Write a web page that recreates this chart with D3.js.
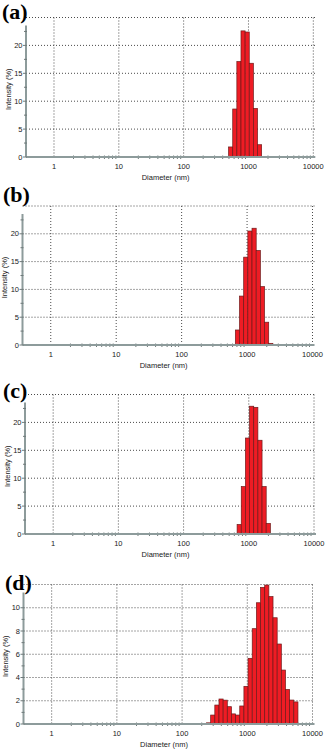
<!DOCTYPE html>
<html>
<head>
<meta charset="utf-8">
<script src="https://cdn.jsdelivr.net/npm/d3@7"></script>
<style>
  body { margin: 0; background: #fff; }
  svg { display: block; }
  .tick-label { font-family: "Liberation Sans", Arial, sans-serif; font-size: 7.5px; fill: #1a1a1a; }
  .axis-title { font-family: "Liberation Sans", Arial, sans-serif; font-size: 7.5px; fill: #1a1a1a; }
  .panel-label { font-family: "Liberation Serif", "Times New Roman", serif; font-size: 22px; font-weight: bold; fill: #000; }
</style>
</head>
<body>
<div id="chart"></div>
<script>
// Malvern size classes (nm) used by the bars, and intensities
const sizesA = [531.2, 615.1, 712.4, 825.0, 955.4, 1106, 1281, 1484];
const intensityA = [1.8, 8.6, 17.1, 22.6, 22.4, 16.8, 8.7, 2.2];

const sizesB = [712.4, 825.0, 955.4, 1106, 1281, 1484, 1718, 1990, 2305];
const intensityB = [2.7, 8.8, 15.8, 20.5, 21.0, 17.0, 10.5, 4.1, 0.3];

const sizesC = [712.4, 825.0, 955.4, 1106, 1281, 1484, 1718, 1990];
const intensityC = [1.7, 8.5, 17.2, 22.9, 22.7, 16.8, 8.5, 1.9];

const sizesD = [255.0, 295.3, 342.0, 396.1, 458.7, 531.2, 615.1, 712.4, 825.0, 955.4, 1106,
                1281, 1484, 1718, 1990, 2305, 2669, 3091, 3580, 4145, 4801, 5560];
const intensityD = [0.1, 0.77, 1.63, 2.15, 2.05, 1.49, 0.87, 0.77, 1.55, 3.24, 5.65,
                    8.2, 10.43, 11.75, 11.95, 10.96, 9.14, 6.88, 4.64, 2.97, 2.06, 1.9];

// ratio between neighbouring size classes (70 classes, 0.4 - 10000 nm)
const binRatio = Math.pow(10000 / 0.4, 1 / 69);

const xTicks = [1, 10, 100, 1000, 10000];
const xTickLabels = ["1", "10", "100", "1000", "10000"];
const yTicksABC = [0, 5, 10, 15, 20];
const yTicksD = [0, 2, 4, 6, 8, 10];
const panelLabels = ["(a)", "(b)", "(c)", "(d)"];
const xTitle = "Diameter (nm)";
const yTitle = "Intensity (%)";

// Layout of the four stacked panels (pixels)
const panels = [
    { sizes: sizesA, values: intensityA, yMax: 25, yTicks: yTicksABC, minorStep: 2.5,
      left: 26, right: 313.3, top: 17.5, bottom: 157, lx: 2, ly: 18.5 },
    { sizes: sizesB, values: intensityB, yMax: 25, yTicks: yTicksABC, minorStep: 2.5,
      left: 22.5, right: 312.5, top: 206, bottom: 345, lx: 3, ly: 201.5 },
    { sizes: sizesC, values: intensityC, yMax: 25, yTicks: yTicksABC, minorStep: 2.5,
      left: 25, right: 314, top: 394.5, bottom: 534, lx: 3, ly: 398 },
    { sizes: sizesD, values: intensityD, yMax: 12, yTicks: yTicksD, minorStep: 1,
      left: 23.5, right: 312.5, top: 584.5, bottom: 724, lx: 5, ly: 590 }
];

const svg = d3.select("#chart").append("svg")
    .attr("width", 326)
    .attr("height", 749);

const gridColor = "#4a4a4a";
const axisColor = "#8d9b9b";

panels.forEach((p, i) => {
    const g = svg.append("g");

    const x = d3.scaleLog()
        .domain([0.37, 10000])
        .range([p.left, p.right]);

    const y = d3.scaleLinear()
        .domain([0, p.yMax])
        .range([p.bottom, p.top]);

    // Dotted grid: vertical at decades, horizontal at major ticks and the top frame
    g.selectAll(".vgrid")
        .data(xTicks)
        .join("line")
        .attr("x1", d => x(d)).attr("x2", d => x(d))
        .attr("y1", y(p.yMax)).attr("y2", y(0))
        .attr("stroke", gridColor)
        .attr("stroke-width", 1)
        .attr("stroke-dasharray", "1,2");

    g.selectAll(".hgrid")
        .data(p.yTicks.filter(d => d > 0).concat([p.yMax]))
        .join("line")
        .attr("x1", x.range()[0]).attr("x2", x(10000) + 2)
        .attr("y1", d => y(d)).attr("y2", d => y(d))
        .attr("stroke", gridColor)
        .attr("stroke-width", 1)
        .attr("stroke-dasharray", "1,2");

    // Bars, one per size class, spanning the class in log space
    const halfBin = Math.sqrt(binRatio);
    const bars = p.sizes.map((s, k) => ({ size: s, value: p.values[k] }));
    g.selectAll(".bar")
        .data(bars)
        .join("rect")
        .attr("class", "bar")
        .attr("x", d => x(d.size / halfBin))
        .attr("width", d => x(d.size * halfBin) - x(d.size / halfBin))
        .attr("y", d => y(d.value))
        .attr("height", d => y(0) - y(d.value))
        .attr("fill", "#ee1c24")
        .attr("stroke", "#6e1a1a")
        .attr("stroke-width", 0.7);

    // Minor x ticks (2..9 in each decade)
    const minorX = [];
    [1, 10, 100, 1000].forEach(dec => {
        for (let m = 2; m <= 9; m++) minorX.push(dec * m);
    });
    g.selectAll(".xminor")
        .data(minorX)
        .join("line")
        .attr("x1", d => x(d)).attr("x2", d => x(d))
        .attr("y1", y(0) - 1.5).attr("y2", y(0) + 2)
        .attr("stroke", "#6f7a7a")
        .attr("stroke-width", 1);

    // x axis line
    g.append("line")
        .attr("x1", x.range()[0]).attr("x2", x(10000) + 2)
        .attr("y1", y(0)).attr("y2", y(0))
        .attr("stroke", axisColor)
        .attr("stroke-width", 2);

    // y spine with major and minor ticks
    g.append("line")
        .attr("x1", x.range()[0]).attr("x2", x.range()[0])
        .attr("y1", y(0)).attr("y2", y(p.yMax) + 8)
        .attr("stroke", axisColor)
        .attr("stroke-width", 2);

    const minorY = d3.range(p.minorStep, p.yMax - 1, p.minorStep * 2);
    g.selectAll(".yminor")
        .data(minorY)
        .join("line")
        .attr("x1", x.range()[0] - 2).attr("x2", x.range()[0] + 1)
        .attr("y1", d => y(d)).attr("y2", d => y(d))
        .attr("stroke", "#6f7a7a");

    g.selectAll(".ymajor")
        .data(p.yTicks)
        .join("line")
        .attr("x1", x.range()[0] - 3).attr("x2", x.range()[0] + 1)
        .attr("y1", d => y(d)).attr("y2", d => y(d))
        .attr("stroke", "#6f7a7a");

    // tick labels
    g.selectAll(".ylab")
        .data(p.yTicks)
        .join("text")
        .attr("class", "tick-label")
        .attr("x", x.range()[0] - 3.5)
        .attr("y", d => y(d))
        .attr("dy", "0.35em")
        .attr("text-anchor", "end")
        .text(d => d);

    g.selectAll(".xlab")
        .data(xTicks)
        .join("text")
        .attr("class", "tick-label")
        .attr("x", d => x(d))
        .attr("y", y(0) + 11.5)
        .attr("text-anchor", "middle")
        .text((d, k) => xTickLabels[k]);

    // axis titles
    g.append("text")
        .attr("class", "axis-title")
        .attr("x", (x(1) + x(10000)) / 2 - 18)
        .attr("y", y(0) + 22.5)
        .attr("text-anchor", "middle")
        .text(xTitle);

    const yMid = (y(0) + y(p.yMax)) / 2 + 2;
    g.append("text")
        .attr("class", "axis-title")
        .attr("transform", `translate(${x.range()[0] - 15.5}, ${yMid}) rotate(-90)`)
        .attr("text-anchor", "middle")
        .text(yTitle);

    // panel letter
    g.append("text")
        .attr("class", "panel-label")
        .attr("x", p.lx)
        .attr("y", p.ly)
        .text(panelLabels[i]);
});
</script>
</body>
</html>
